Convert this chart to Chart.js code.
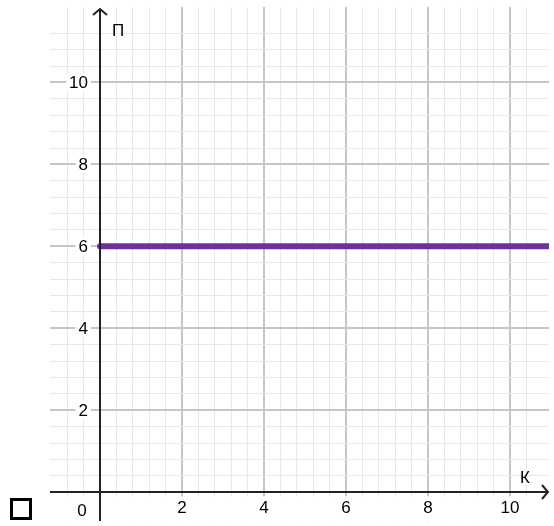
<!DOCTYPE html>
<html>
<head>
<meta charset="utf-8">
<script src="https://cdn.jsdelivr.net/npm/chart.js@4.4.1/dist/chart.umd.min.js"></script>
<style>
  html, body { margin: 0; padding: 0; background: #fff; }
  #wrap { position: relative; width: 554px; height: 526px; }
  #box { position: absolute; left: 10px; top: 498px; width: 16px; height: 16px; border: 3px solid #000; }
</style>
</head>
<body>
<div id="wrap">
  <canvas id="graph" width="554" height="526"></canvas>
  <div id="box"></div>
</div>
<script>
// значения К и П
var kValues = [0, 11];
var pValues = [6, 6];
var xTicks = [2, 4, 6, 8, 10];
var yTicks = [2, 4, 6, 8, 10];
var xName = 'К';
var yName = 'П';

var font = { family: 'Liberation Sans, Arial, sans-serif', size: 17 };

function isMajor(v, list) {
  return list.some(function (t) { return Math.abs(t - v) < 1e-6; });
}
function isEven(v) {
  return Math.abs(v / 2 - Math.round(v / 2)) < 1e-6;
}
function gridColor(c) {
  var v = c.tick.value;
  if (Math.abs(v) < 1e-6) return 'rgba(0,0,0,0)';
  if (isEven(v)) return '#c6c6c6';
  if (Math.abs(v / 0.4 - Math.round(v / 0.4)) < 1e-6) return '#e8e8e8';
  return 'rgba(0,0,0,0)';
}
function gridWidth(c) {
  return isEven(c.tick.value) ? 2 : 1;
}

// стрелки, подписи осей, метки оси П и ноль
var axesPlugin = {
  id: 'axesExtra',
  afterDraw: function (chart) {
    var ctx = chart.ctx, x = chart.scales.x, y = chart.scales.y, a = chart.chartArea;
    var x0 = Math.round(x.getPixelForValue(0)), y0 = Math.round(y.getPixelForValue(0));
    ctx.save();
    ctx.font = font.size + 'px ' + font.family;
    ctx.textBaseline = 'middle';
    ctx.textAlign = 'right';
    yTicks.forEach(function (t) {
      var py = y.getPixelForValue(t);
      var w = ctx.measureText(String(t)).width;
      ctx.fillStyle = '#fff';
      ctx.fillRect(x0 - 12 - w - 3, py - 9, w + 6, 18);
      ctx.fillStyle = '#000';
      ctx.fillText(String(t), x0 - 12, py + 1);
    });
    ctx.strokeStyle = '#222';
    ctx.lineWidth = 2;
    ctx.beginPath();
    ctx.moveTo(x0 - 7, a.top + 8); ctx.lineTo(x0, a.top + 2); ctx.lineTo(x0 + 7, a.top + 8);
    ctx.moveTo(a.right - 7, y0 - 7); ctx.lineTo(a.right - 1, y0); ctx.lineTo(a.right - 7, y0 + 7);
    ctx.moveTo(x0, a.top + 2); ctx.lineTo(x0, a.bottom);
    ctx.moveTo(a.left, y0); ctx.lineTo(a.right - 1, y0);
    ctx.stroke();
    ctx.fillStyle = '#000';
    ctx.textAlign = 'center';
    ctx.fillText(yName, x0 + 18, a.top + 24);
    ctx.fillText(xName, a.right - 24, y0 - 14);
    ctx.fillText('0', x0 - 18, y0 + 19);
    ctx.restore();
  }
};

new Chart(document.getElementById('graph'), {
  type: 'line',
  data: {
    datasets: [{
      data: kValues.map(function (k, i) { return { x: k, y: pValues[i] }; }),
      borderColor: '#6c319e',
      borderWidth: 6,
      borderCapStyle: 'round',
      pointRadius: 0,
      fill: false
    }]
  },
  options: {
    responsive: false,
    animation: false,
    layout: { padding: { left: 50, right: 5, top: 7, bottom: 5 } },
    plugins: { legend: { display: false }, tooltip: { enabled: false } },
    scales: {
      x: {
        type: 'linear',
        position: { y: 0 },
        min: -1.22,
        max: 10.95,
        border: { display: false },
        grid: { color: gridColor, lineWidth: gridWidth, drawTicks: false },
        ticks: {
          stepSize: 0.4,
          autoSkip: false,
          maxRotation: 0,
          padding: 6,
          color: '#000',
          font: font,
          showLabelBackdrop: true,
          backdropColor: '#fff',
          backdropPadding: 2,
          callback: function (v) { return isMajor(v, xTicks) ? String(Math.round(v)) : ''; }
        },
        afterFit: function (s) { s.height = 0; s.paddingLeft = 0; s.paddingRight = 0; s.paddingTop = 0; s.paddingBottom = 0; }
      },
      y: {
        type: 'linear',
        position: { x: 0 },
        min: -0.7,
        max: 11.84,
        border: { display: false },
        grid: { color: gridColor, lineWidth: gridWidth, drawTicks: false },
        ticks: { stepSize: 0.4, autoSkip: false, display: false },
        afterFit: function (s) { s.width = 0; s.paddingLeft = 0; s.paddingRight = 0; s.paddingTop = 0; s.paddingBottom = 0; }
      }
    }
  },
  plugins: [axesPlugin]
});
</script>
</body>
</html>
